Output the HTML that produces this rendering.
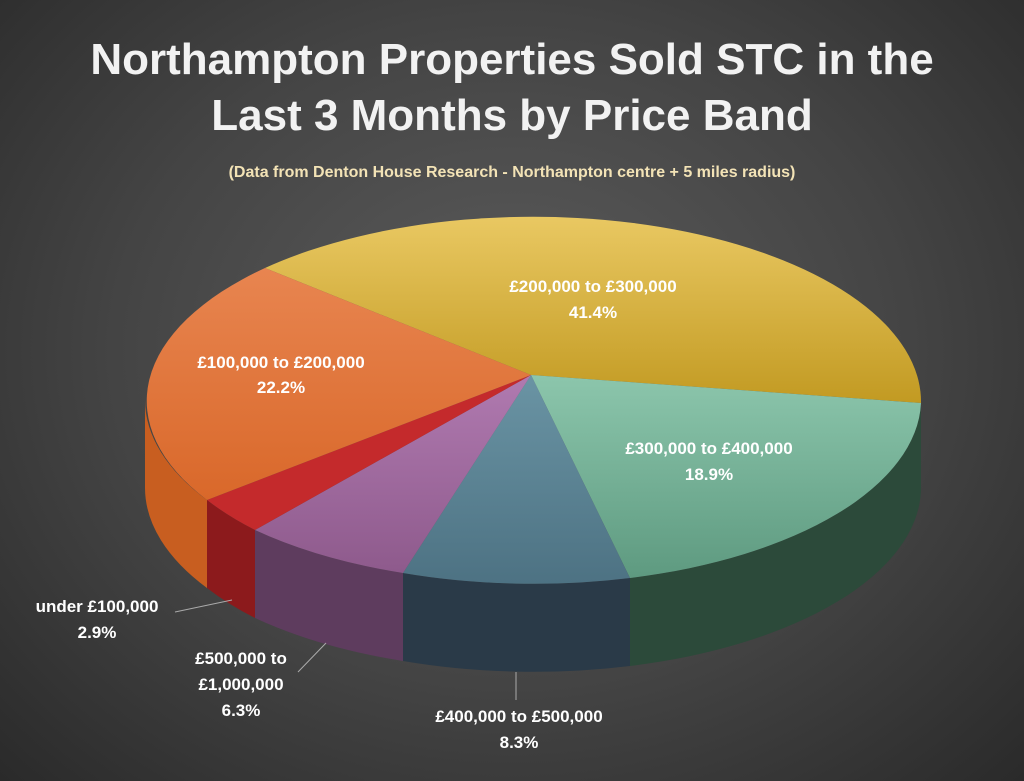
<!DOCTYPE html>
<html><head><meta charset="utf-8"><style>
html,body{margin:0;padding:0;}
body{width:1024px;height:781px;overflow:hidden;background:radial-gradient(ellipse at 50% 45%,#5c5c5c 0%,#444 55%,#2a2a2a 100%);font-family:"Liberation Sans",sans-serif;}
</style></head><body>
<svg width="1024" height="781" viewBox="0 0 1024 781" xmlns="http://www.w3.org/2000/svg" style="position:absolute;left:0;top:0">
<defs>
<linearGradient id="gy" x1="0" y1="0" x2="0" y2="1"><stop offset="0" stop-color="#e9c862"/><stop offset="1" stop-color="#c29a22"/></linearGradient>
<linearGradient id="go" x1="0" y1="0" x2="0" y2="1"><stop offset="0" stop-color="#e88550"/><stop offset="1" stop-color="#d9682a"/></linearGradient>
<linearGradient id="gt" x1="0" y1="0" x2="0" y2="1"><stop offset="0" stop-color="#8cc6ac"/><stop offset="1" stop-color="#5e9a80"/></linearGradient>
<linearGradient id="gb" x1="0" y1="0" x2="0" y2="1"><stop offset="0" stop-color="#6a94a4"/><stop offset="1" stop-color="#4d7283"/></linearGradient>
<linearGradient id="gp" x1="0" y1="0" x2="0" y2="1"><stop offset="0" stop-color="#b07ab0"/><stop offset="1" stop-color="#8e5a8c"/></linearGradient>
</defs>
<text x="512" y="74" text-anchor="middle" fill="#f2f2f2" font-weight="bold" font-size="44">Northampton Properties Sold STC in the</text>
<text x="512" y="130" text-anchor="middle" fill="#f2f2f2" font-weight="bold" font-size="44">Last 3 Months by Price Band</text>
<text x="512" y="177" text-anchor="middle" fill="#f3e3b6" font-weight="bold" font-size="16">(Data from Denton House Research - Northampton centre + 5 miles radius)</text>
<!-- sides -->
<path d="M145,400 A388,185 0 0 0 207,500 L207,588 A388,185 0 0 1 145,488 Z" fill="#c85e20"/>
<path d="M207,500 A388,185 0 0 0 255,530 L255,618 A388,185 0 0 1 207,588 Z" fill="#8c1a1c"/>
<path d="M255,530 A388,185 0 0 0 403,573 L403,661 A388,185 0 0 1 255,618 Z" fill="#5e3c5e"/>
<path d="M403,573 A388,185 0 0 0 630,578 L630,666 A388,185 0 0 1 403,661 Z" fill="#2a3a48"/>
<path d="M630,578 A388,185 0 0 0 921,403 L921,491 A388,185 0 0 1 630,666 Z" fill="#2c4a3a"/>
<!-- top -->
<path d="M531,375 L265,268 A388,185 0 0 1 921,403 Z" fill="url(#gy)"/>
<path d="M531,375 L921,403 A388,185 0 0 1 630,578 Z" fill="url(#gt)"/>
<path d="M531,375 L630,578 A388,185 0 0 1 403,573 Z" fill="url(#gb)"/>
<path d="M531,375 L403,573 A388,185 0 0 1 255,530 Z" fill="url(#gp)"/>
<path d="M531,375 L255,530 A388,185 0 0 1 207,500 Z" fill="#c42a2c"/>
<path d="M531,375 L207,500 A388,185 0 0 1 265,268 Z" fill="url(#go)"/>
<g fill="#fff" font-weight="bold" font-size="17" text-anchor="middle">
<text x="593" y="292">£200,000 to £300,000</text><text x="593" y="318">41.4%</text>
<text x="281" y="368">£100,000 to £200,000</text><text x="281" y="393">22.2%</text>
<text x="709" y="454">£300,000 to £400,000</text><text x="709" y="480">18.9%</text>
<text x="519" y="722">£400,000 to £500,000</text><text x="519" y="748">8.3%</text>
<text x="97" y="612">under £100,000</text><text x="97" y="638">2.9%</text>
<text x="241" y="664">£500,000 to</text><text x="241" y="690">£1,000,000</text><text x="241" y="716">6.3%</text>
</g>
<g stroke="#aaa" stroke-width="1" fill="none">
<path d="M175,612 L232,600"/>
<path d="M298,672 L326,643"/>
<path d="M516,672 L516,700"/>
</g>
</svg>
</body></html>
